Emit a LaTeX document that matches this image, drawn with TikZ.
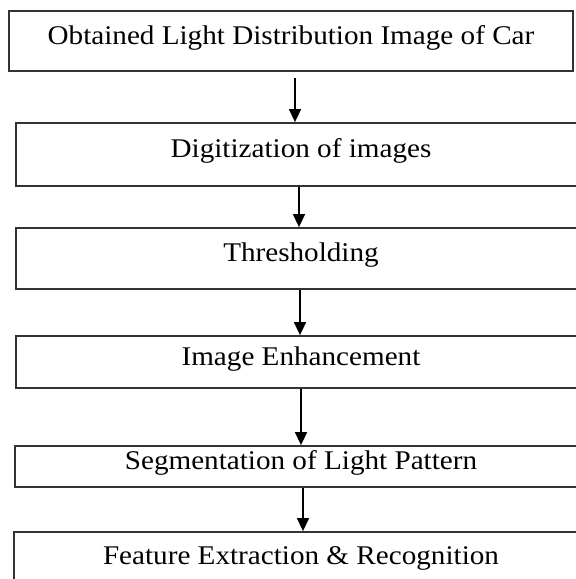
\documentclass[tikz,border=0pt]{standalone}
\usepackage{fontspec}
\setmainfont[FakeStretch=1.08]{Liberation Serif}
\usetikzlibrary{arrows.meta}

\tikzset{
  stage/.style={draw=black!80, line width=1.8pt, minimum height=#1, inner sep=0pt,
    text height=18pt, text depth=12pt, font=\fontsize{27}{30}\selectfont},
  flow/.style={line width=1.5pt, -{Triangle[width=12pt,length=13pt]}}
}

\begin{document}
\begin{tikzpicture}[x=1pt,y=-1pt]
\useasboundingbox (0,0) rectangle (576,579);
\clip (0,0) rectangle (576,579);

\node[stage=60pt, minimum width=564pt] (obt) at (291,41) {Obtained Light Distribution Image of Car};
\node[stage=63pt, minimum width=570pt] (dig) at (301,154.5) {Digitization of images};
\node[stage=61pt, minimum width=570pt] (thr) at (301,258.5) {Thresholding};
\node[stage=52pt, minimum width=570pt] (enh) at (301,362) {Image Enhancement};
\node[stage=41pt, minimum width=572pt] (seg) at (301,466.5) {Segmentation of Light Pattern};
\node[stage=58pt, minimum width=574pt] (fea) at (301,561) {Feature Extraction \& Recognition};

\draw[flow] ([xshift=4pt,yshift=-6pt]obt.south) -- ([xshift=-6pt]dig.north);
\draw[flow] ([xshift=-2pt]dig.south) -- ([xshift=-2pt]thr.north);
\draw[flow] ([xshift=-1pt]thr.south) -- ([xshift=-1pt]enh.north);
\draw[flow] (enh.south) -- (seg.north);
\draw[flow] ([xshift=2pt]seg.south) -- ([xshift=2pt]fea.north);
\end{tikzpicture}
\end{document}
